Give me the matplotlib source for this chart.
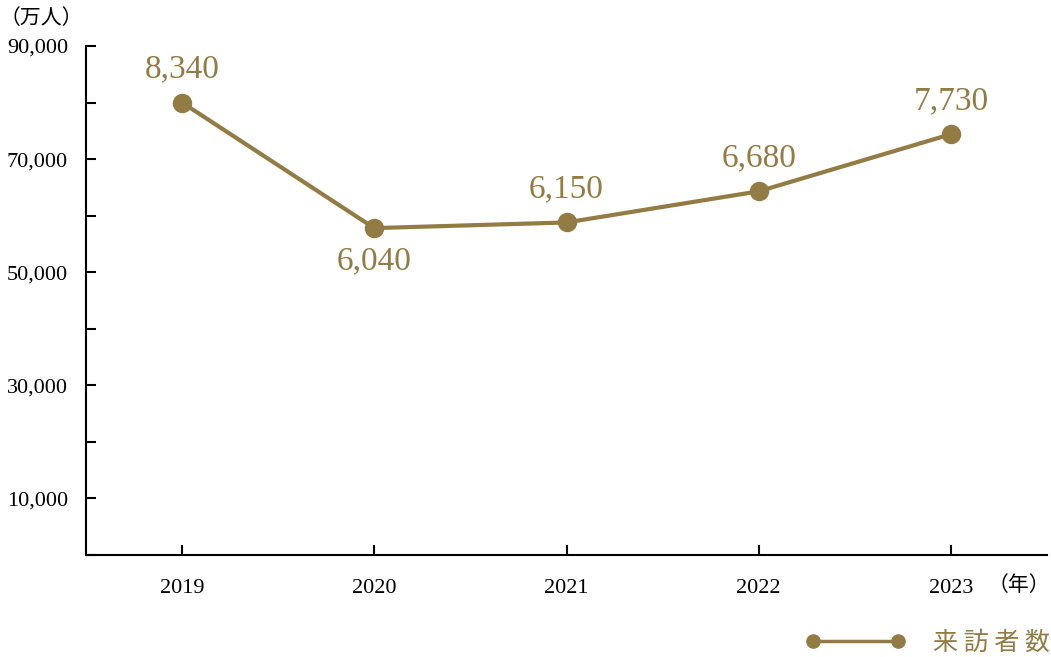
import matplotlib
matplotlib.use("Agg")
import matplotlib.pyplot as plt
from matplotlib.lines import Line2D
from matplotlib.ticker import MultipleLocator, FixedLocator

# Values (positions on the axis) and the printed labels
years = ["2019", "2020", "2021", "2022", "2023"]
visitors = [80000, 57800, 58800, 64300, 74400]
point_labels = ["8,340", "6,040", "6,150", "6,680", "7,730"]
label_above = [True, False, True, True, True]
ytick_values = [10000, 30000, 50000, 70000, 90000]
ytick_labels = ["10,000", "30,000", "50,000", "70,000", "90,000"]

gold = "#937b45"
serif = ["Liberation Serif", "DejaVu Serif"]
jp = ["Noto Sans CJK JP", "DejaVu Sans"]

fig = plt.figure(figsize=(10.51, 6.57), dpi=100)
ax = fig.add_axes([86 / 1051, 102 / 657, (1047 - 86) / 1051, (555 - 46) / 657])

x = list(range(len(years)))
ax.plot(x, visitors, color=gold, lw=3, marker="o", ms=13, zorder=3)

for xi, v, lab, up in zip(x, visitors, point_labels, label_above):
    ax.annotate(lab, (xi, v), xytext=(0, 24 if up else -24), textcoords="offset points",
                ha="center", va="center", color=gold, fontsize=24, family=serif)

ax.set_xlim(-0.5, 4.5)
ax.set_ylim(0, 90000)
ax.set_xticks(x)
ax.set_xticklabels(years, family=serif, fontsize=16)
ax.yaxis.set_major_locator(FixedLocator(ytick_values))
ax.set_yticklabels(ytick_labels, family=serif, fontsize=16)
ax.yaxis.set_minor_locator(MultipleLocator(10000))

for s in ["top", "right"]:
    ax.spines[s].set_visible(False)
for s in ["left", "bottom"]:
    ax.spines[s].set_linewidth(1.5)
ax.tick_params(axis="both", which="both", direction="in", length=7, width=1.5)
ax.tick_params(axis="y", pad=13)
ax.tick_params(axis="x", pad=17)

fig.text(0.0, 0.972, "（万人）", family=jp, fontsize=15, va="center", ha="left")
fig.text(0.999, 0.109, "（年）", family=jp, fontsize=15, va="center", ha="right")

handle = Line2D([0, 1], [0, 0], color=gold, lw=2.5, marker="o", ms=9.5)
fig.legend([handle], ["来 訪 者 数"], loc="center right", bbox_to_anchor=(1.02, 0.021),
           frameon=False, numpoints=2, handlelength=4.0, handletextpad=1.1,
           prop={"family": jp, "size": 18}, labelcolor=gold)

fig.savefig("out.png", dpi=100)
